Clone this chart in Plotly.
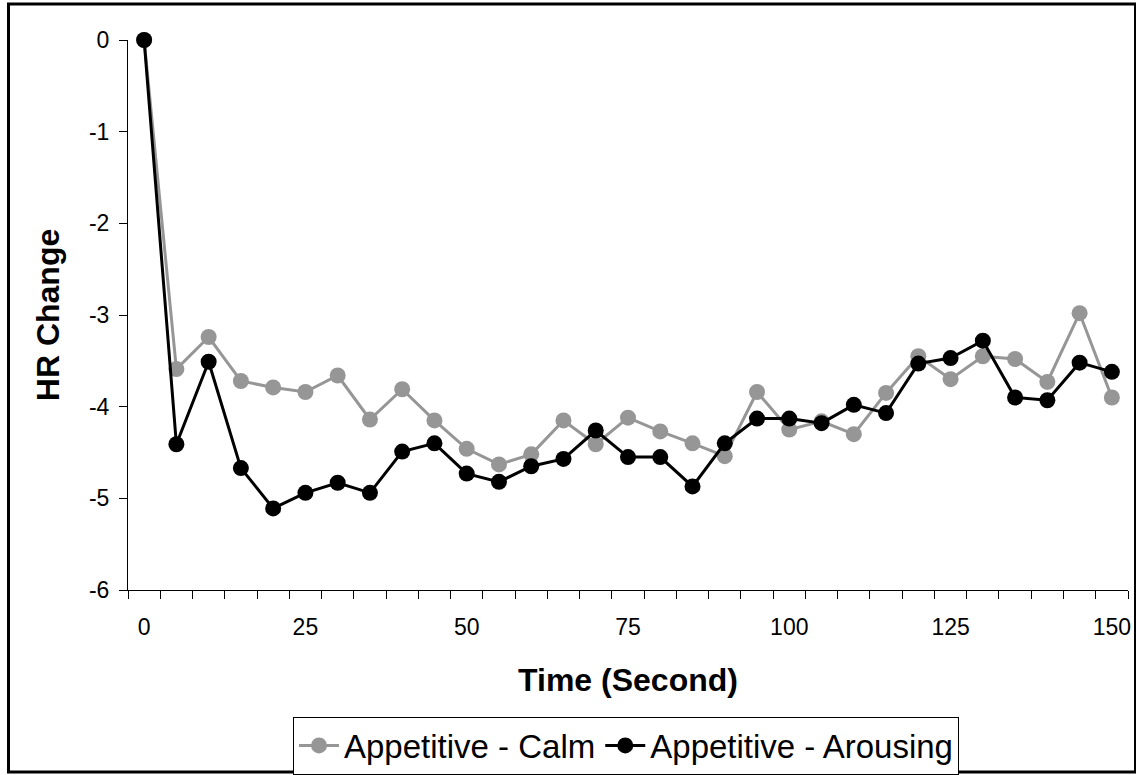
import plotly.graph_objects as go

times = [0, 5, 10, 15, 20, 25, 30, 35, 40, 45, 50, 55, 60, 65, 70, 75, 80, 85, 90, 95,
         100, 105, 110, 115, 120, 125, 130, 135, 140, 145, 150]
calm = [0, -3.59, -3.24, -3.72, -3.79, -3.84, -3.66, -4.14, -3.81, -4.15, -4.46,
        -4.63, -4.52, -4.15, -4.41, -4.12, -4.27, -4.40, -4.54, -3.84, -4.25,
        -4.16, -4.30, -3.85, -3.45, -3.70, -3.45, -3.48, -3.73, -2.98, -3.90]
arousing = [0, -4.41, -3.51, -4.67, -5.11, -4.94, -4.83, -4.94, -4.49, -4.40, -4.73,
            -4.82, -4.65, -4.57, -4.26, -4.55, -4.55, -4.87, -4.40, -4.13, -4.13,
            -4.18, -3.98, -4.07, -3.53, -3.47, -3.28, -3.90, -3.93, -3.52, -3.62]
x_ticks = [0, 25, 50, 75, 100, 125, 150]
y_ticks = [0, -1, -2, -3, -4, -5, -6]

FONT = "Arial, Liberation Sans, sans-serif"

fig = go.Figure()
fig.add_trace(go.Scatter(
    x=times, y=calm, mode="lines+markers", name="Appetitive - Calm",
    line=dict(color="#969696", width=3),
    marker=dict(color="#969696", size=16, line=dict(width=0)),
    cliponaxis=False,
))
fig.add_trace(go.Scatter(
    x=times, y=arousing, mode="lines+markers", name="Appetitive - Arousing",
    line=dict(color="#000000", width=3),
    marker=dict(color="#000000", size=16, line=dict(width=0)),
    cliponaxis=False,
))

W, H = 1136, 775
L, R, T, B = 128, 8, 40, 185
pw, ph = W - L - R, H - T - B

def px_x(p):
    return (p - L) / pw

def px_y(p):
    return (H - B - p) / ph

fig.update_layout(
    width=W, height=H,
    margin=dict(l=L, r=R, t=T, b=B, autoexpand=False),
    paper_bgcolor="white", plot_bgcolor="white",
    font=dict(family=FONT, color="black", size=23),
    showlegend=True,
    legend=dict(
        orientation="h", xanchor="center", yanchor="middle",
        x=px_x(626), y=px_y(745.5),
        bordercolor="black", borderwidth=1,
        font=dict(family=FONT, size=33, color="black"),
        itemwidth=40, tracegroupgap=0,
    ),
    xaxis=dict(
        range=[-2.5, 152.5], tickmode="array", tickvals=x_ticks,
        ticktext=[str(v) for v in x_ticks],
        ticks="outside", ticklen=8, tickcolor="rgba(0,0,0,0)",
        ticklabelstandoff=8,
        minor=dict(ticks="outside", ticklen=8, tick0=-2.5, dtick=5,
                   tickcolor="black", tickwidth=1, showgrid=False),
        showline=True, linecolor="black", linewidth=1,
        showgrid=False, zeroline=False,
        tickfont=dict(size=23),
        title=dict(text="<b>Time (Second)</b>", font=dict(size=32), standoff=30),
    ),
    yaxis=dict(
        range=[-6, 0], tickmode="array", tickvals=y_ticks,
        ticktext=[str(v) for v in y_ticks],
        ticks="outside", ticklen=8, tickcolor="black", tickwidth=1,
        ticklabelstandoff=5,
        showline=True, linecolor="black", linewidth=1,
        showgrid=False, zeroline=False,
        tickfont=dict(size=23),
        title=dict(text="<b>HR Change</b>", font=dict(size=32), standoff=19),
    ),
    shapes=[dict(
        type="rect", xref="paper", yref="paper",
        x0=px_x(8.5), x1=px_x(1135.5), y0=px_y(772), y1=px_y(4),
        line=dict(color="black", width=3), fillcolor="rgba(0,0,0,0)",
        layer="above",
    )],
)

fig.write_html("out.html")
